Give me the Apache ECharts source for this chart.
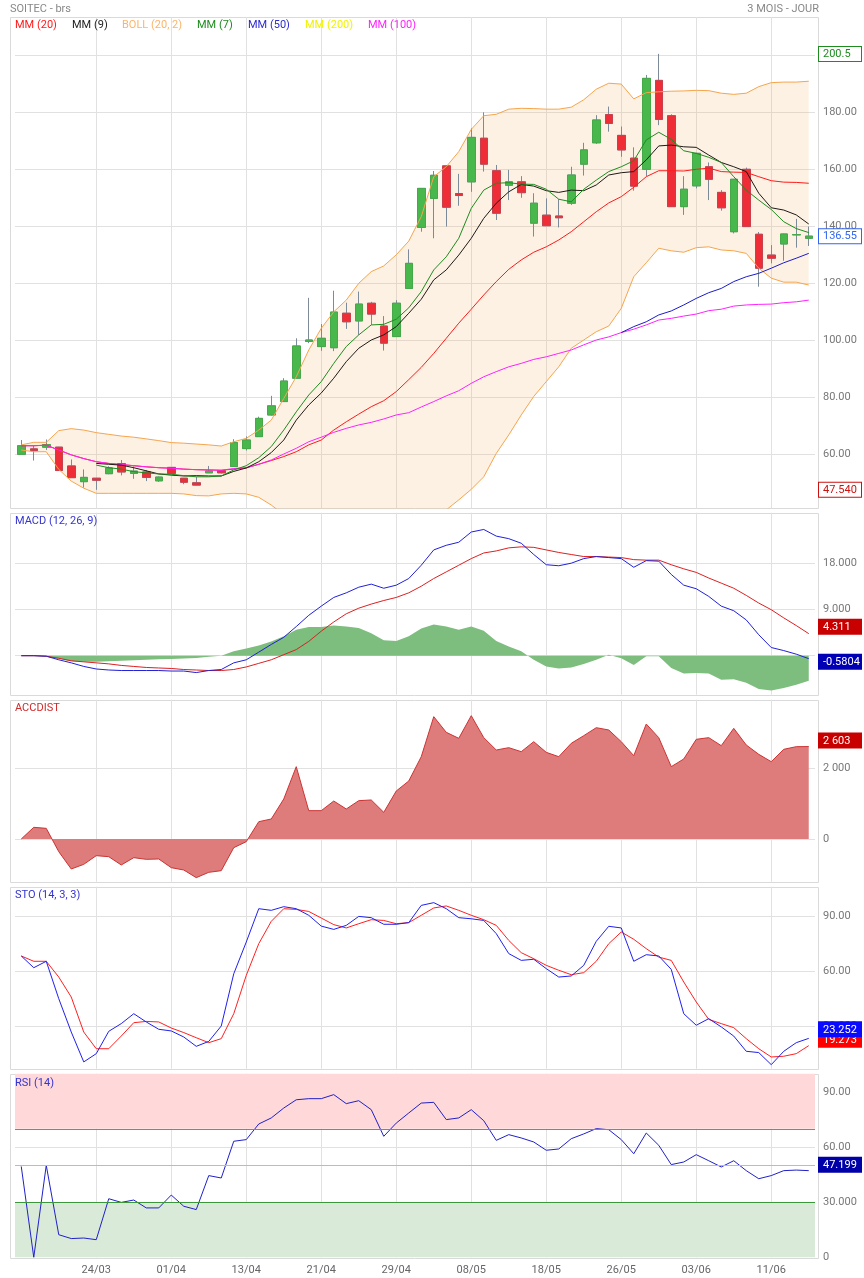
<!DOCTYPE html>
<html>
<head>
<meta charset="utf-8">
<script src="https://cdn.jsdelivr.net/npm/echarts@6/dist/echarts.min.js"></script>
<style>
  html, body { margin: 0; padding: 0; background: #fff; }
  #main { width: 864px; height: 1278px; }
</style>
</head>
<body>
<div id="main"></div>
<script>
const myChart = echarts.init(document.getElementById("main"));

// ---- data ----
const dates = [
  "16/03","17/03","18/03","19/03","22/03","23/03",
  "24/03","25/03","26/03","29/03","30/03","31/03",
  "01/04","06/04","07/04","08/04","09/04","12/04",
  "13/04","14/04","15/04","16/04","19/04","20/04",
  "21/04","22/04","23/04","26/04","27/04","28/04",
  "29/04","30/04","03/05","04/05","05/05","06/05",
  "08/05","11/05","12/05","13/05","14/05","15/05",
  "18/05","19/05","20/05","21/05","22/05","25/05",
  "26/05","27/05","28/05","29/05","01/06","02/06",
  "03/06","04/06","05/06","08/06","09/06","10/06",
  "11/06","12/06","15/06","16/06"
];
const tickDates = ["24/03","01/04","13/04","21/04","29/04","08/05","18/05","26/05","03/06","11/06"];

const open = [60.0,61.9,62.5,62.5,55.9,50.4,51.6,53.2,56.7,53.3,53.8,50.7,55.4,51.6,50.0,53.5,54.2,55.7,62.0,66.2,73.8,78.5,86.7,99.6,97.8,97.4,109.5,106.8,113.0,105.0,101.3,118.2,139.6,149.8,161.2,151.5,155.6,170.9,159.5,154.4,155.6,141.1,143.9,143.6,148.1,161.8,169.3,179.2,171.9,163.9,160.0,191.2,178.8,146.9,154.2,160.9,151.9,138.1,160.0,137.2,129.9,133.8,137.0,135.8];
const close = [63.0,61.3,63.4,54.3,51.8,51.9,50.9,55.2,53.8,54.1,51.9,52.0,53.3,50.2,49.2,54.1,53.5,64.1,65.0,72.6,77.0,85.7,98.0,100.1,100.7,109.9,106.5,112.7,109.2,99.0,113.0,127.0,153.3,157.9,146.7,150.8,171.2,161.8,144.6,155.6,151.8,148.1,140.2,143.0,158.0,166.8,177.3,176.1,166.8,154.1,191.9,177.5,146.9,153.0,165.6,156.5,146.5,156.5,139.9,125.3,128.8,137.3,137.1,136.55];
const low = [60.0,57.8,61.5,54.2,51.8,48.3,47.54,53.0,52.6,51.4,50.6,50.3,53.2,49.5,49.1,53.4,53.3,55.6,61.3,66.1,73.6,78.4,86.6,99.0,96.3,96.2,104.0,101.9,105.4,96.4,101.2,118.1,138.1,135.8,139.9,147.2,152.1,159.2,142.2,149.2,150.0,136.4,140.1,139.6,147.5,157.8,168.9,173.2,164.4,152.5,157.6,175.5,146.8,144.0,153.3,149.2,145.5,137.5,139.8,118.8,127.0,127.9,132.5,133.1];
const high = [65.0,62.9,65.2,62.6,58.2,54.7,51.7,55.8,58.0,55.7,54.5,52.2,55.5,51.7,52.0,55.9,54.5,65.3,66.3,73.2,80.5,86.7,100.7,114.9,105.7,117.4,113.2,117.1,113.5,108.5,114.1,131.9,153.4,159.4,161.5,158.4,174.4,180.0,161.5,159.8,157.6,151.6,149.8,149.5,160.9,169.3,179.0,182.0,175.0,167.7,193.1,200.5,179.3,157.6,165.8,162.4,152.7,156.6,160.6,138.0,133.4,137.4,142.6,139.9];

const mm20 = [63.0,63.0,63.2,61.5,59.8,58.5,57.4,56.8,56.4,56.0,55.6,55.3,55.1,54.8,54.6,54.5,54.4,54.8,55.2,56.5,57.8,59.2,60.9,63.3,65.0,68.5,71.4,74.1,76.7,78.8,82.0,86.2,90.5,95.4,100.7,106.0,110.9,115.9,120.6,124.9,128.2,130.9,132.8,135.2,138.1,141.6,145.1,148.2,150.4,153.7,157.4,159.5,159.5,159.4,160.0,160.4,159.2,159.0,158.9,157.4,156.0,155.5,155.4,155.1];
const mm9 = [null,null,null,null,null,null,56.8,56.5,56.2,55.3,54.2,53.1,52.7,52.4,52.5,52.4,52.4,54.0,55.2,57.4,60.6,65.0,72.0,77.3,81.5,86.7,92.5,97.2,100.1,101.9,104.8,109.5,114.4,121.2,124.7,129.9,135.8,142.8,148.1,152.1,154.7,154.1,152.5,151.9,152.7,152.5,154.5,158.0,158.8,159.2,163.3,168.2,168.5,167.9,167.7,165.0,162.4,160.9,159.2,151.6,146.5,145.7,144.0,140.8];
const mm7 = [null,null,null,null,null,null,56.2,55.3,54.8,53.9,53.5,53.1,53.0,52.5,52.1,52.1,52.4,54.5,56.0,58.8,62.7,68.5,74.9,80.8,85.5,91.9,97.8,101.9,105.4,105.6,107.4,111.4,117.1,124.7,129.3,135.8,146.3,152.7,155.1,155.3,154.8,154.7,153.0,149.5,148.6,153.0,156.2,159.2,160.9,163.0,170.3,173.0,170.5,166.5,165.6,164.2,162.4,157.4,152.7,149.2,145.9,141.6,139.2,137.8];
const mm50 = [null,null,null,null,null,null,null,null,null,null,null,null,null,null,null,null,null,null,null,null,null,null,null,null,null,null,null,null,null,null,null,null,null,null,null,null,null,null,null,null,null,null,null,null,null,null,null,null,102.7,104.8,106.5,108.9,110.3,112.4,114.7,116.7,118.2,120.6,122.3,123.5,125.3,127.2,128.8,130.5];
const mm100 = [63.0,63.0,63.2,61.5,59.8,58.5,57.4,56.8,56.4,56.0,55.6,55.3,55.1,54.8,54.6,54.5,54.4,55.0,55.3,56.5,58.0,60.1,62.1,64.4,66.0,67.7,69.1,70.3,71.2,72.4,73.8,74.6,76.6,78.5,80.5,82.3,84.9,87.2,89.0,90.7,91.9,93.3,94.2,95.4,96.6,98.4,100.1,101.2,102.7,103.9,105.4,107.1,107.7,108.5,109.2,110.4,110.9,112.0,112.4,112.6,112.7,113.2,113.5,114.1];
const bollUpper = [63.3,64.2,64.2,68.3,69.0,68.5,67.6,67.0,66.4,66.0,65.4,64.8,64.1,63.9,63.6,63.3,62.9,64.4,65.6,68.5,72.0,79.6,87.2,96.6,104.2,110.0,114.1,120.0,124.1,126.1,130.0,134.8,143.4,157.4,160.9,166.2,174.0,178.8,179.3,181.1,181.4,181.3,181.1,181.1,181.8,184.4,188.1,190.2,189.9,184.7,186.9,187.2,187.4,187.5,187.7,187.6,186.7,186.3,186.7,189.0,190.4,190.6,190.6,190.9];
const bollLower = [61.5,60.9,60.9,54.7,50.6,48.1,46.3,46.3,46.3,46.3,46.3,46.3,46.3,46.1,45.5,45.4,46.1,46.3,46.1,44.9,42.2,38.8,34.6,30.0,26.5,27.0,28.5,28.2,29.3,31.5,34.0,36.5,38.0,38.5,40.5,44.0,47.7,52.1,60.3,66.8,73.8,80.3,85.5,90.7,97.2,100.1,103.0,105.0,111.2,122.3,127.2,132.3,131.4,130.9,132.5,132.8,131.7,131.4,130.5,125.3,121.8,120.4,120.4,119.4];

const macd = [0,0,-0.1,-0.8,-1.4,-2.1,-2.6,-2.8,-2.9,-2.9,-2.9,-2.9,-3.0,-3.0,-3.3,-2.9,-2.7,-1.4,-0.8,0.7,2.2,3.6,5.7,7.9,9.7,11.4,12.3,13.4,14.0,13.2,13.8,15.1,17.7,20.7,21.6,22.2,24.2,24.7,23.4,22.9,22.0,19.8,17.8,17.6,18.1,19.0,19.4,19.2,19.0,17.3,18.6,18.5,15.9,13.8,13.1,11.6,9.7,8.8,7.0,4.1,1.6,1.0,0.3,-0.5804];
const macdSignal = [0,0,-0.1,-0.5,-1.0,-1.2,-1.4,-1.6,-1.9,-2.1,-2.3,-2.4,-2.5,-2.7,-2.8,-2.9,-2.9,-2.7,-2.2,-1.5,-0.8,0.2,1.2,2.8,4.8,6.6,8.2,9.3,10.1,10.8,11.4,12.3,13.6,15.1,16.4,17.7,19.0,20.1,20.5,21.1,21.3,21.2,20.7,20.2,19.8,19.4,19.4,19.3,19.2,18.8,18.7,18.7,17.8,17.0,16.3,15.2,14.2,13.2,11.8,10.3,9.0,7.4,5.9,4.311];
const macdHist = [0,0,-0.2,-0.6,-1.1,-1.2,-1.2,-1.1,-1.0,-0.9,-0.8,-0.7,-0.65,-0.55,-0.45,-0.2,0,0.85,1.4,2.0,2.8,3.8,5.1,5.6,5.6,5.9,5.7,5.4,4.4,3.0,2.9,3.8,5.3,6.1,5.7,5.1,5.7,4.9,2.9,1.8,0.85,-0.8,-2.1,-2.5,-2.3,-1.6,-0.8,0.2,-0.5,-1.8,-0.1,-0.1,-2.4,-3.5,-3.4,-3.5,-4.7,-4.6,-5.3,-6.5,-6.8,-6.3,-5.7,-4.89];

const accDist = [0,329,300,-357,-845,-714,-470,-498,-732,-526,-573,-563,-808,-873,-1089,-939,-892,-244,-75,488,563,1127,2038,798,798,1070,845,1080,1099,751,1352,1634,2319,3446,3005,2836,3474,2855,2507,2573,2460,2742,2441,2319,2695,2911,3136,3071,2742,2347,3239,2855,2038,2254,2808,2855,2629,3117,2648,2385,2178,2526,2601,2603];

const stoK = [68.2,61.8,65.3,44.9,26.7,10.4,14.9,27.1,31.3,36.7,32.2,28.2,27.3,24.0,18.9,21.6,30.0,58.5,75.8,94.0,93.1,95.1,94.0,90.4,84.5,82.7,84.9,89.8,89.1,85.5,85.5,86.4,95.8,97.3,94.0,89.1,88.5,87.6,80.4,69.5,65.8,66.4,61.3,56.7,57.3,63.1,76.2,84.4,83.5,65.3,68.9,68.2,60.9,36.7,30.4,34.0,29.5,24.5,16.2,15.5,8.9,16.2,20.9,23.252];
const stoD = [68.2,65.3,65.3,56.7,45.8,26.7,17.6,17.6,24.5,31.8,32.5,32.2,28.9,26.4,23.6,20.9,23.1,36.7,57.6,74.9,87.1,94.0,93.6,92.5,88.9,85.3,83.5,85.8,88.0,87.6,85.8,86.4,90.4,94.4,95.5,93.1,90.4,88.0,84.9,76.7,70.0,66.7,63.1,60.4,58.0,59.1,65.3,74.9,81.3,77.3,72.2,67.6,65.8,54.0,43.1,33.6,31.3,29.1,23.1,17.6,13.1,13.5,14.9,19.273];

const rsi = [49.5,0,50.1,12.3,10.2,10.5,9.6,31.9,29.9,31.2,26.9,26.9,33.9,27.8,26.0,44.5,43.2,63.2,64.1,72.6,75.9,81.3,85.8,86.4,86.4,88.6,83.7,85.3,80.4,65.9,73.1,78.6,84.0,84.4,75.0,75.9,80.4,74.4,63.7,66.8,65.0,62.8,58.3,59.0,64.6,67.2,70.1,69.5,64.1,56.4,67.7,61.0,50.5,51.9,55.9,52.6,49.2,52.6,47.2,42.8,44.5,47.2,47.5,47.199];

const priceTicks = [60, 80, 100, 120, 140, 160, 180, 200];
const priceLabels = [60, 80, 100, 120, 140, 160, 180];
const macdTicks = [0, 9, 18];
const macdLabels = [9, 18];
const accTicks = [0, 2000];
const stoTicks = [30, 60, 90];
const rsiTicks = [30, 60, 90];
const rsiLabels = [0, 30, 60, 90];

const legendNames = ["MM (20)", "MM (9)", "BOLL (20, 2)", "MM (7)", "MM (50)", "MM (200)", "MM (100)"];
const legendColors = ["#ff1a1a", "#222222", "#fbb46a", "#1e8c1e", "#2b2bd0", "#f2f200", "#ff22ff"];
const legendX = [15, 72, 122, 197, 248, 305, 368];

// ---- style ----
const FONT = "Roboto, sans-serif";
const GRID_COLOR = "#e1e1e1";
const panels = [
  { top: 17, height: 491.3 },
  { top: 512.7, height: 182 },
  { top: 699.7, height: 182 },
  { top: 886.7, height: 182 },
  { top: 1073.7, height: 183.6 },
];

function xAxisFor(k) {
  return {
    type: "category",
    gridIndex: k,
    data: dates,
    boundaryGap: true,
    axisLine: { show: false },
    axisTick: { show: false },
    axisLabel: {
      show: k === 4,
      interval: (i, v) => tickDates.includes(v),
      color: "#666",
      fontSize: 11,
      fontFamily: FONT,
      margin: 7,
    },
    splitLine: {
      show: true,
      alignWithLabel: true,
      interval: (i, v) => tickDates.includes(v),
      lineStyle: { color: GRID_COLOR, width: 1 },
    },
  };
}

function yAxisFor(k, min, max, ticks, labels, fmt) {
  return {
    type: "value",
    gridIndex: k,
    position: "right",
    min: min,
    max: max,
    axisLine: { show: false },
    axisTick: { show: false, customValues: ticks },
    axisLabel: {
      customValues: labels,
      formatter: fmt,
      color: "#777",
      fontSize: 11,
      fontFamily: FONT,
      margin: 8,
    },
    splitLine: { show: true, lineStyle: { color: GRID_COLOR, width: 1 } },
  };
}

// value tag on the right edge, shift < 0 moves the box up (px)
function tag(value, text, bg, fg, border, shift) {
  const sp = Math.abs(shift) * 2;
  let fmt = "{b|" + text + "}";
  if (shift < 0) fmt = fmt + "\n{s| }";
  if (shift > 0) fmt = "{s| }\n" + fmt;
  return {
    yAxis: value,
    lineStyle: { color: "rgba(0,0,0,0)", width: 0 },
    label: {
      show: true,
      opacity: 1,
      position: "end",
      distance: 4,
      formatter: fmt,
      rich: {
        b: {
          color: fg,
          backgroundColor: bg,
          borderColor: border,
          borderWidth: 1,
          width: 34,
          padding: [2, 4, 1, 4],
          fontSize: 11,
          fontFamily: FONT,
          lineHeight: 12,
        },
        s: { height: sp, lineHeight: sp, fontSize: 1 },
      },
    },
  };
}

function tagLine(items) {
  return {
    silent: true,
    symbol: "none",
    animation: false,
    lineStyle: { color: "rgba(0,0,0,0)", width: 0 },
    data: items,
  };
}

function line(name, data, color, k, z) {
  return {
    name: name,
    type: "line",
    xAxisIndex: k,
    yAxisIndex: k,
    data: data,
    symbol: "none",
    lineStyle: { color: color, width: 1 },
    z: z || 3,
  };
}

const wickColor = "#7d8b99";
const candleWicks = dates.map((d, i) => [open[i], close[i], low[i], high[i]]);
const candleBodies = dates.map((d, i) => [open[i], close[i], Math.min(open[i], close[i]), Math.max(open[i], close[i])]);
const bollWidth = bollUpper.map((u, i) => +(u - bollLower[i]).toFixed(2));

const frames = panels.map((p) => ({
  type: "rect",
  z: -1,
  shape: { x: 10.5, y: Math.round(p.top) + 0.5, width: 808, height: Math.round(p.height) },
  style: { fill: "none", stroke: "#dadada", lineWidth: 1 },
}));

function label(x, y, text, color, align) {
  return {
    type: "text",
    x: x,
    y: y,
    z: 10,
    style: {
      text: text,
      fill: color,
      font: "11px " + FONT,
      textAlign: align || "left",
      align: align || "left",
      textVerticalAlign: "middle",
      verticalAlign: "middle",
    },
  };
}

const texts = [
  label(10, 9, "SOITEC - brs", "#888"),
  label(819, 9, "3 MOIS - JOUR", "#888", "right"),
  label(15, 521, "MACD (12, 26, 9)", "#3434d0"),
  label(15, 708, "ACCDIST", "#d02a2a"),
  label(15, 895, "STO (14, 3, 3)", "#3434d0"),
  label(15, 1083, "RSI (14)", "#3434d0"),
].concat(legendNames.map((n, i) => label(legendX[i], 25, n, legendColors[i])));

const options = {
  animation: false,
  backgroundColor: "#fff",
  textStyle: { fontFamily: FONT },
  grid: panels.map((p) => ({ left: 15, right: 49, top: p.top, height: p.height })),
  xAxis: [0, 1, 2, 3, 4].map(xAxisFor),
  yAxis: [
    yAxisFor(0, 41.05, 213.44, priceTicks, priceLabels, (v) => v.toFixed(2)),
    yAxisFor(1, -7.63, 27.98, macdTicks, macdLabels, (v) => v.toFixed(3)),
    yAxisFor(2, -1203, 3924, accTicks, accTicks, (v) => (v === 0 ? "0" : v / 1000 + " 000")),
    yAxisFor(3, 6.7, 106.0, stoTicks, stoTicks, (v) => (v === 30 ? "30.000" : v.toFixed(2))),
    yAxisFor(4, 0, 100, rsiTicks, rsiLabels, (v) => (v === 0 ? "0" : v === 30 ? "30.000" : v.toFixed(2))),
  ],
  graphic: frames.concat(texts),
  series: [
    // Bollinger band fill
    {
      type: "line", xAxisIndex: 0, yAxisIndex: 0, stack: "boll", data: bollLower,
      symbol: "none", lineStyle: { opacity: 0 }, z: 1,
    },
    {
      type: "line", xAxisIndex: 0, yAxisIndex: 0, stack: "boll", data: bollWidth,
      symbol: "none", lineStyle: { opacity: 0 },
      areaStyle: { color: "rgba(246,176,100,0.25)" }, z: 1,
    },
    // candles: wicks then bodies
    {
      type: "candlestick", xAxisIndex: 0, yAxisIndex: 0, data: candleWicks, barWidth: 8, z: 2,
      itemStyle: { color: "transparent", color0: "transparent", borderColor: wickColor, borderColor0: wickColor, borderColorDoji: wickColor, borderWidth: 1 },
    },
    {
      type: "candlestick", xAxisIndex: 0, yAxisIndex: 0, data: candleBodies, barWidth: 8, z: 2,
      itemStyle: { color: "#48b84c", color0: "#ee2d36", borderColor: "#45a849", borderColor0: "#c9404c", borderColorDoji: wickColor, borderWidth: 1 },
    },
    line("BOLL up", bollUpper, "#f6a54c", 0),
    line("BOLL low", bollLower, "#f6a54c", 0),
    line("MM (20)", mm20, "#ff1a1a", 0),
    line("MM (100)", mm100, "#ff22ff", 0),
    line("MM (50)", mm50, "#1c1cc8", 0),
    line("MM (9)", mm9, "#1e1a14", 0),
    Object.assign(line("MM (7)", mm7, "#1e8c1e", 0), {
      markLine: tagLine([
        tag(Math.max(...high), "200.5", "#fff", "#1e8c1e", "#1e8c1e", 0),
        tag(close[close.length - 1], "136.55", "#fff", "#3366ee", "#3366ee", 0),
        tag(Math.min(...low), "47.540", "#fff", "#cc1111", "#cc1111", 0),
      ]),
    }),

    // MACD
    {
      type: "line", xAxisIndex: 1, yAxisIndex: 1, data: macdHist, symbol: "none",
      lineStyle: { width: 0 }, areaStyle: { color: "#7dbd7d", opacity: 1 }, z: 1,
    },
    Object.assign(line("Signal", macdSignal, "#dd2020", 1), {
      markLine: tagLine([tag(macdSignal[63], "4.311", "#c80000", "#fff", "#c80000", -7)]),
    }),
    Object.assign(line("MACD", macd, "#2020d8", 1), {
      markLine: tagLine([tag(macd[63], "-0.5804", "#0000b4", "#fff", "#0000b4", 3)]),
    }),

    // ACCDIST
    {
      type: "line", xAxisIndex: 2, yAxisIndex: 2, data: accDist, symbol: "none",
      lineStyle: { color: "#cc3333", width: 1 }, areaStyle: { color: "#de7c7c", opacity: 1 },
      markLine: tagLine([tag(accDist[63], "2 603", "#c80000", "#fff", "#c80000", -6)]),
    },

    // STO
    Object.assign(line("%D", stoD, "#ff2020", 3), {
      markLine: tagLine([tag(stoD[63], "19.273", "#ff0000", "#fff", "#ff0000", -6)]),
    }),
    Object.assign(line("%K", stoK, "#2020ee", 3, 4), {
      markLine: tagLine([tag(stoK[63], "23.252", "#0a0aff", "#fff", "#0a0aff", -9)]),
    }),

    // RSI
    Object.assign(line("RSI", rsi, "#2020c8", 4), {
      markArea: {
        silent: true,
        data: [
          [{ yAxis: 70, itemStyle: { color: "#ffd9d9" } }, { yAxis: 100 }],
          [{ yAxis: 0, itemStyle: { color: "#d9ead9" } }, { yAxis: 30 }],
        ],
      },
      markLine: {
        silent: true,
        symbol: "none",
        animation: false,
        label: { show: false },
        data: [
          { yAxis: 70, lineStyle: { color: "#e85858", type: "solid", width: 1 } },
          { yAxis: 30, lineStyle: { color: "#3c963c", type: "solid", width: 1 } },
          { yAxis: 50, lineStyle: { color: "#8ec6f4", type: "solid", width: 1 } },
          tag(rsi[63], "47.199", "#0000a8", "#fff", "#0000a8", -6),
        ],
      },
    }),
  ],
};

myChart.setOption(options);
</script>
</body>
</html>
